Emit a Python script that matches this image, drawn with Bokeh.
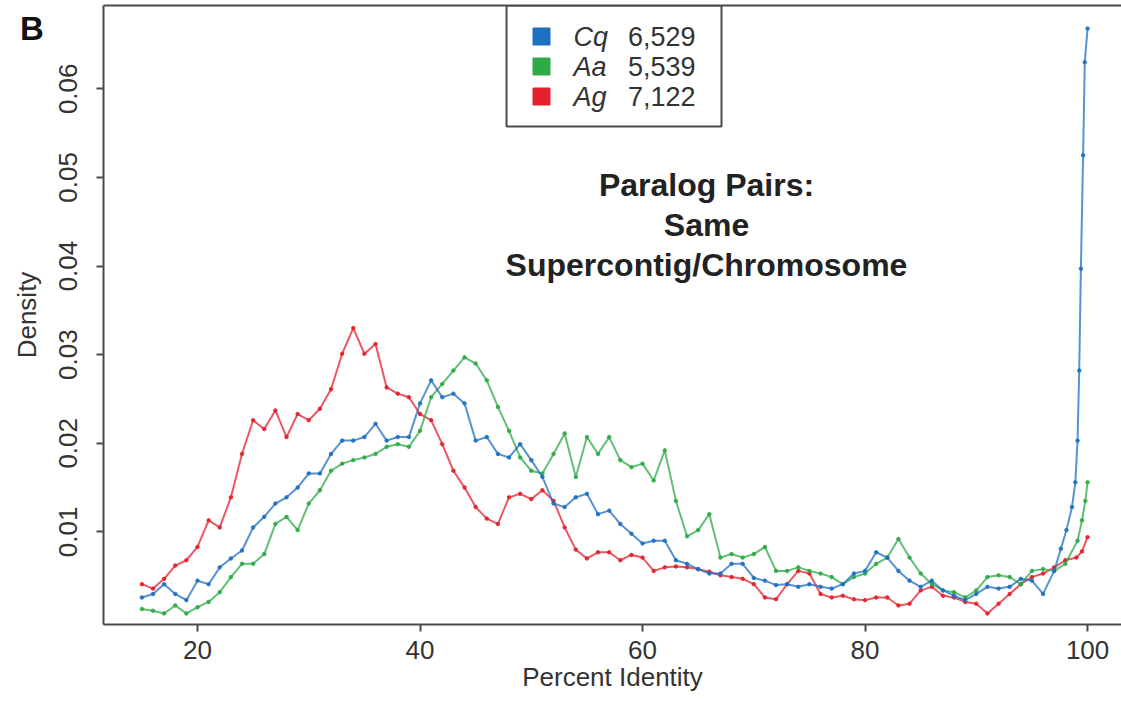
from bokeh.plotting import figure
from bokeh.models import Range1d, FixedTicker, BoxAnnotation, LinearAxis, Div
from bokeh.layouts import column
from bokeh.embed import file_html
from bokeh.resources import INLINE
from bokeh.core.properties import value

# ---------------- data ----------------
cq_x = list(range(15, 98)) + [97.6, 98.1, 98.6, 98.9, 99.1, 99.25, 99.4, 99.6, 99.75, 100]
cq_y = [0.0026, 0.0030, 0.0041, 0.0030, 0.0023, 0.0045, 0.0041, 0.0060, 0.0070, 0.0079,
        0.0105, 0.0117, 0.0132, 0.0139, 0.0150, 0.0166, 0.0166, 0.0188, 0.0203, 0.0203,
        0.0207, 0.0222, 0.0203, 0.0207, 0.0207, 0.0245, 0.0271, 0.0252, 0.0256, 0.0245,
        0.0203, 0.0207, 0.0188, 0.0184, 0.0199, 0.0181, 0.0162, 0.0132, 0.0128, 0.0139,
        0.0143, 0.0120, 0.0124, 0.0109, 0.0098, 0.0087, 0.0090, 0.0090, 0.0068, 0.0064,
        0.0058, 0.0053, 0.0053, 0.0064, 0.0064, 0.0048, 0.0045, 0.0040, 0.0041, 0.0038,
        0.0041, 0.0038, 0.0036, 0.0041, 0.0053, 0.0056, 0.0077, 0.0071, 0.0056, 0.0045,
        0.0038, 0.0045, 0.0034, 0.0028, 0.0023, 0.0030, 0.0038, 0.0036, 0.0038, 0.0047,
        0.0045, 0.0030, 0.0056,
        0.0081, 0.0102, 0.0128, 0.0156, 0.0203, 0.0282, 0.0397, 0.0525, 0.0630, 0.0668]

aa_x = list(range(15, 99)) + [99.1, 99.5, 99.8, 100]
aa_y = [0.0013, 0.0011, 0.0008, 0.0017, 0.0008, 0.0015, 0.0021, 0.0032, 0.0049, 0.0064,
        0.0064, 0.0075, 0.0109, 0.0117, 0.0102, 0.0132, 0.0147, 0.0169, 0.0177, 0.0181,
        0.0184, 0.0188, 0.0196, 0.0199, 0.0196, 0.0214, 0.0252, 0.0267, 0.0282, 0.0297,
        0.0290, 0.0271, 0.0241, 0.0214, 0.0184, 0.0169, 0.0166, 0.0188, 0.0211, 0.0162,
        0.0207, 0.0188, 0.0207, 0.0181, 0.0173, 0.0177, 0.0158, 0.0192, 0.0135, 0.0095,
        0.0102, 0.0120, 0.0071, 0.0075, 0.0071, 0.0075, 0.0083, 0.0056, 0.0056, 0.0060,
        0.0056, 0.0053, 0.0049, 0.0041, 0.0049, 0.0053, 0.0064, 0.0071, 0.0092, 0.0071,
        0.0053, 0.0041, 0.0034, 0.0032, 0.0026, 0.0034, 0.0049, 0.0051, 0.0049, 0.0041,
        0.0056, 0.0058, 0.0056, 0.0064,
        0.0090, 0.0113, 0.0135, 0.0156]

ag_x = list(range(15, 100)) + [99.5, 100]
ag_y = [0.0041, 0.0036, 0.0047, 0.0062, 0.0068, 0.0083, 0.0113, 0.0105, 0.0139, 0.0188,
        0.0226, 0.0216, 0.0237, 0.0207, 0.0233, 0.0226, 0.0239, 0.0261, 0.0301, 0.0330,
        0.0301, 0.0312, 0.0263, 0.0256, 0.0252, 0.0233, 0.0226, 0.0199, 0.0169, 0.0150,
        0.0128, 0.0115, 0.0109, 0.0139, 0.0143, 0.0137, 0.0147, 0.0135, 0.0105, 0.0080,
        0.0070, 0.0077, 0.0077, 0.0068, 0.0074, 0.0071, 0.0056, 0.0060, 0.0061, 0.0060,
        0.0058, 0.0055, 0.0051, 0.0049, 0.0047, 0.0041, 0.0026, 0.0024, 0.0041, 0.0056,
        0.0053, 0.0030, 0.0026, 0.0028, 0.0024, 0.0023, 0.0026, 0.0026, 0.0017, 0.0019,
        0.0034, 0.0038, 0.0028, 0.0026, 0.0021, 0.0019, 0.0008, 0.0019, 0.0030, 0.0041,
        0.0049, 0.0053, 0.0060, 0.0068, 0.0071,
        0.0078, 0.0094]

species = ["Cq", "Aa", "Ag"]
counts = ["6,529", "5,539", "7,122"]
colors = ["#1f6fc2", "#2eaa47", "#e3202c"]

x_ticks = [20, 40, 60, 80, 100]
y_ticks = [0.01, 0.02, 0.03, 0.04, 0.05, 0.06]
y_tick_labels = ["0.01", "0.02", "0.03", "0.04", "0.05", "0.06"]

note_lines = ["Paralog Pairs:", "Same", "Supercontig/Chromosome"]
panel_letter = "B"

# ---------------- layout ----------------
W, H = 1121, 701
FL, FR, FT, FB = 103, 1121, 5, 624
X0, X1 = 11.55, 103.05
Y0, Y1 = -0.00045, 0.0694
FONT = "Liberation Sans"
AX = "#4a4a4a"
TXT = "#333333"


def px2x(px):
    return X0 + (px - FL) * (X1 - X0) / (FR - FL)


def py2y(py):
    return Y1 - (py - FT) * (Y1 - Y0) / (FB - FT)


p = figure(width=W, height=H, x_range=Range1d(X0, X1), y_range=Range1d(Y0, Y1),
           output_backend="svg", toolbar_location=None,
           min_border_left=FL, min_border_right=0, min_border_top=FT,
           min_border_bottom=H - FB)
p.outline_line_color = None
p.grid.visible = False
p.background_fill_color = "white"
p.border_fill_color = "white"

xa = p.below[0]
ya = p.left[0]

for ax in (xa, ya):
    ax.axis_line_width = 2
    ax.axis_line_color = AX
    ax.major_tick_line_color = AX
    ax.major_tick_line_width = 2
    ax.major_tick_out = 7
    ax.major_tick_in = 0
    ax.minor_tick_line_color = None
    ax.major_label_text_font = FONT
    ax.major_label_text_font_size = "26px"
    ax.major_label_text_color = TXT
    ax.axis_label_text_font = FONT
    ax.axis_label_text_font_size = "26px"
    ax.axis_label_text_font_style = "normal"
    ax.axis_label_text_color = TXT

xa.ticker = FixedTicker(ticks=x_ticks)
xa.major_label_standoff = 9
xa.axis_label = "Percent Identity"
xa.axis_label_standoff = 0

ya.ticker = FixedTicker(ticks=y_ticks)
ya.major_label_overrides = {t: s for t, s in zip(y_ticks, y_tick_labels)}
ya.major_label_orientation = "vertical"
ya.major_label_standoff = 19
ya.axis_label = "Density"
ya.axis_label_standoff = 15

# top frame line as an empty axis
top_axis = LinearAxis(ticker=FixedTicker(ticks=[]), major_label_text_font_size="0px",
                      major_label_standoff=0, major_tick_out=0, major_tick_in=0,
                      major_tick_line_color=None, minor_tick_line_color=None,
                      axis_line_width=2, axis_line_color=AX)
p.add_layout(top_axis, "above")

# curves
series = [(ag_x, ag_y, colors[2]), (aa_x, aa_y, colors[1]), (cq_x, cq_y, colors[0])]
for xs, ys, c in series:
    p.line(xs, ys, line_color=c, line_width=2, line_alpha=0.75)
    p.scatter(xs, ys, size=3.5, color=c, alpha=0.9)

# legend box
p.add_layout(BoxAnnotation(left=px2x(506), right=px2x(721), bottom=py2y(126),
                           fill_color="white", fill_alpha=1.0,
                           line_color=AX, line_alpha=1.0, line_width=2, level="underlay"))
rows_py = [36, 66, 96]
p.scatter([px2x(541)] * 3, [py2y(r) for r in rows_py], marker="square", size=17,
          color=colors)
p.text([px2x(573)] * 3, [py2y(r) for r in rows_py], text=species,
       text_font=value(FONT), text_font_size="27px", text_font_style="italic",
       text_color=TXT, text_baseline="middle", text_align="left")
p.text([px2x(695)] * 3, [py2y(r) for r in rows_py], text=counts,
       text_font=value(FONT), text_font_size="27px",
       text_color=TXT, text_baseline="middle", text_align="right")

# annotation
p.text([px2x(706)] * 3, [py2y(v) for v in (184, 224, 264)], text=note_lines,
       text_font=value(FONT), text_font_size="32px", text_font_style="bold",
       text_color="#222222", text_baseline="middle", text_align="center")

# panel letter, overlaid on the corner of the page
letter = Div(text=panel_letter, width=32, height=36,
             styles={"position": "absolute", "left": "15px", "top": "6px",
                     "z-index": "100", "font-family": FONT, "font-size": "33px",
                     "font-weight": "bold", "color": "#111111", "line-height": "36px"})

layout = column(p, letter)
open("out.html", "w").write(file_html(layout, INLINE))
